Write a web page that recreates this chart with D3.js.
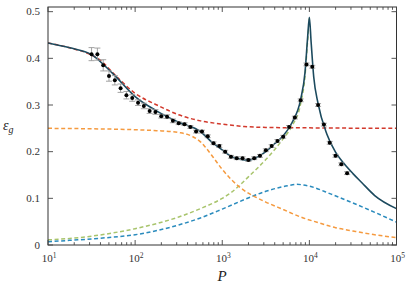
<!DOCTYPE html>
<html><head><meta charset="utf-8">
<script src="https://cdn.jsdelivr.net/npm/d3@7"></script>
<style>body{margin:0;background:#fff}svg{display:block}</style>
</head><body>
<svg id="c" width="407" height="285"></svg>
<script>
// ---- data ----
const dotP = [31.62,36.89,43.03,50.12,58.48,68.13,79.43,92.61,108.0,125.9,146.8,171.1,199.5,232.6,271.2,316.2,368.9,430.3,501.2,584.8,681.3,794.3,926.1,1080,1259,1468,1711,1995,2326,2712,3162,3689,4303,5012,5848,6813,7943,9261,10798,12589,14678,17113,19953,23263,27123];
const dotEps = [0.409,0.409,0.385,0.362,0.353,0.336,0.321,0.315,0.305,0.298,0.287,0.285,0.276,0.275,0.266,0.261,0.259,0.253,0.243,0.243,0.233,0.218,0.212,0.200,0.189,0.186,0.186,0.182,0.186,0.191,0.203,0.212,0.223,0.232,0.253,0.273,0.310,0.387,0.382,0.300,0.258,0.219,0.191,0.173,0.154];
const dotErr = [0.014,0.013,0.012,0.011,0.010,0.009,0.008,0.007,0.006,0.006,0.005,0.005,0.004,0.004,0.004,0.003,0.003,0.003,0.003,0.003,0.003,0.003,0.003,0.003,0.003,0.003,0.003,0.003,0.003,0.003,0.003,0.003,0.003,0.003,0.003,0.003,0.003,0.003,0.003,0.003,0.003,0.003,0.003,0.003,0.003];

const redP = [10,17.78,31.62,39.81,56.23,100,177.8,316.2,562.3,1000,1778,3162,10000,100000];
const redEps = [0.433,0.4225,0.407,0.396,0.368,0.325,0.300,0.279,0.266,0.259,0.254,0.252,0.251,0.250];

const orangeP = [10,31.62,100,177.8,316.2,398.1,501.2,562.3,631.0,794.3,1000,1259,1585,1995,2512,3162,5012,7943,12589,19953,31623,56234,100000];
const orangeEps = [0.250,0.249,0.247,0.245,0.241,0.237,0.228,0.221,0.211,0.187,0.162,0.141,0.124,0.111,0.101,0.092,0.076,0.060,0.048,0.037,0.030,0.022,0.016];

const greenP = [10,17.78,31.62,56.23,100,177.8,316.2,562.3,1000,1259,1585,1995,2512,3162,3981,5012,6310,7943,8913,9550,10000];
const greenEps = [0.011,0.014,0.019,0.026,0.035,0.046,0.060,0.078,0.100,0.112,0.128,0.146,0.164,0.183,0.204,0.228,0.255,0.303,0.362,0.438,0.486];

const blueP = [10,17.78,31.62,56.23,100,177.8,316.2,562.3,1000,1778,3162,5623,7079,10000,17783,31623,56234,100000];
const blueEps = [0.007,0.010,0.013,0.017,0.022,0.031,0.043,0.058,0.077,0.097,0.115,0.127,0.130,0.126,0.109,0.090,0.070,0.049];

const fitP = [10,17.78,31.62,56.23,100,177.8,316.2,562.3,794.3,1000,1259,1585,1995,2512,3162,3981,5012,6310,7943,8913,9550,10000,10471,11220,12589,15849,19953,25119,31623,39811,56234,100000];
const fitEps = [0.433,0.4225,0.408,0.366,0.318,0.287,0.263,0.243,0.217,0.204,0.190,0.184,0.182,0.188,0.200,0.217,0.234,0.262,0.312,0.370,0.445,0.488,0.435,0.360,0.303,0.238,0.199,0.174,0.153,0.134,0.106,0.078];

const yTicks = [0,0.1,0.2,0.3,0.4,0.5];
const yTickLabels = ["0","0.1","0.2","0.3","0.4","0.5"];
const xMajor = [10,100,1000,10000,100000];
const xExp = ["1","2","3","4","5"];

// ---- drawing ----
const svg = d3.select("#c");
const L=48, R=396.5, T=7, B=245;
const x = d3.scaleLog().domain([10,1e5]).range([L,R]);
const y = d3.scaleLinear().domain([0,0.51]).range([B,T]);
const serif = "'Liberation Serif','DejaVu Serif',serif";

svg.append("clipPath").attr("id","clip").append("rect")
  .attr("x",L).attr("y",T).attr("width",R-L).attr("height",B-T);
const g = svg.append("g").attr("clip-path","url(#clip)");

function curve(P,E,color,dash,w){
  const line = d3.line().x((d,i)=>x(P[i])).y((d,i)=>y(E[i])).curve(d3.curveMonotoneX);
  g.append("path").attr("d",line(E)).attr("fill","none").attr("stroke",color)
   .attr("stroke-width",w).attr("stroke-dasharray",dash||null);
}
curve(greenP,greenEps,"#a8c46c","4,2.6",1.5);
curve(blueP,blueEps,"#2a8bbd","4,2.6",1.5);
curve(orangeP,orangeEps,"#f59a3f","4,2.6",1.5);
curve(redP,redEps,"#d2392c","4,2.6",1.5);
curve(fitP,fitEps,"#1c4a5e",null,1.6);

// error bars
const eb = g.append("g").attr("stroke","#999").attr("stroke-width",0.9);
dotP.forEach((p,i)=>{
  const cx=x(p), y1=y(dotEps[i]-dotErr[i]), y2=y(dotEps[i]+dotErr[i]);
  eb.append("line").attr("x1",cx).attr("x2",cx).attr("y1",y1).attr("y2",y2);
  eb.append("line").attr("x1",cx-3).attr("x2",cx+3).attr("y1",y1).attr("y2",y1);
  eb.append("line").attr("x1",cx-3).attr("x2",cx+3).attr("y1",y2).attr("y2",y2);
});
g.selectAll("circle.d").data(dotEps).enter().append("circle")
  .attr("cx",(d,i)=>x(dotP[i])).attr("cy",d=>y(d)).attr("r",2).attr("fill","#000");

// frame
svg.append("rect").attr("x",L).attr("y",T).attr("width",R-L).attr("height",B-T)
  .attr("fill","none").attr("stroke","#333").attr("stroke-width",1);

const tk = svg.append("g").attr("stroke","#444").attr("stroke-width",0.9);
yTicks.forEach(v=>{
  const yy=y(v);
  tk.append("line").attr("x1",L).attr("x2",L+5).attr("y1",yy).attr("y2",yy);
  tk.append("line").attr("x1",R-5).attr("x2",R).attr("y1",yy).attr("y2",yy);
});
x.ticks().forEach(v=>{
  const xx=x(v);
  const major = xMajor.includes(v);
  const len = major?5:2.8;
  tk.append("line").attr("x1",xx).attr("x2",xx).attr("y1",B).attr("y2",B-len);
  tk.append("line").attr("x1",xx).attr("x2",xx).attr("y1",T).attr("y2",T+len);
});

// labels
yTicks.forEach((v,i)=>{
  svg.append("text").attr("x",40).attr("y",y(v)+3.6).attr("text-anchor","end")
    .attr("font-family",serif).attr("font-size",11).attr("fill","#333").text(yTickLabels[i]);
});
xMajor.forEach((v,i)=>{
  const t = svg.append("text").attr("x",x(v)+1).attr("y",262).attr("text-anchor","middle")
    .attr("font-family",serif).attr("font-size",11).attr("fill","#333");
  t.append("tspan").text("10");
  t.append("tspan").attr("dy",-4.5).attr("font-size",7.5).text(xExp[i]);
});
const yl = svg.append("text").attr("x",3).attr("y",130).attr("font-family",serif)
  .attr("font-size",14).attr("fill","#222");
yl.append("tspan").attr("font-style","italic").text("ε");
yl.append("tspan").attr("font-style","italic").attr("font-size",10).attr("dy",3).text("g");
svg.append("text").attr("x",222).attr("y",281).attr("text-anchor","middle")
  .attr("font-family",serif).attr("font-style","italic").attr("font-size",15).attr("fill","#222").text("P");
</script>
</body></html>
